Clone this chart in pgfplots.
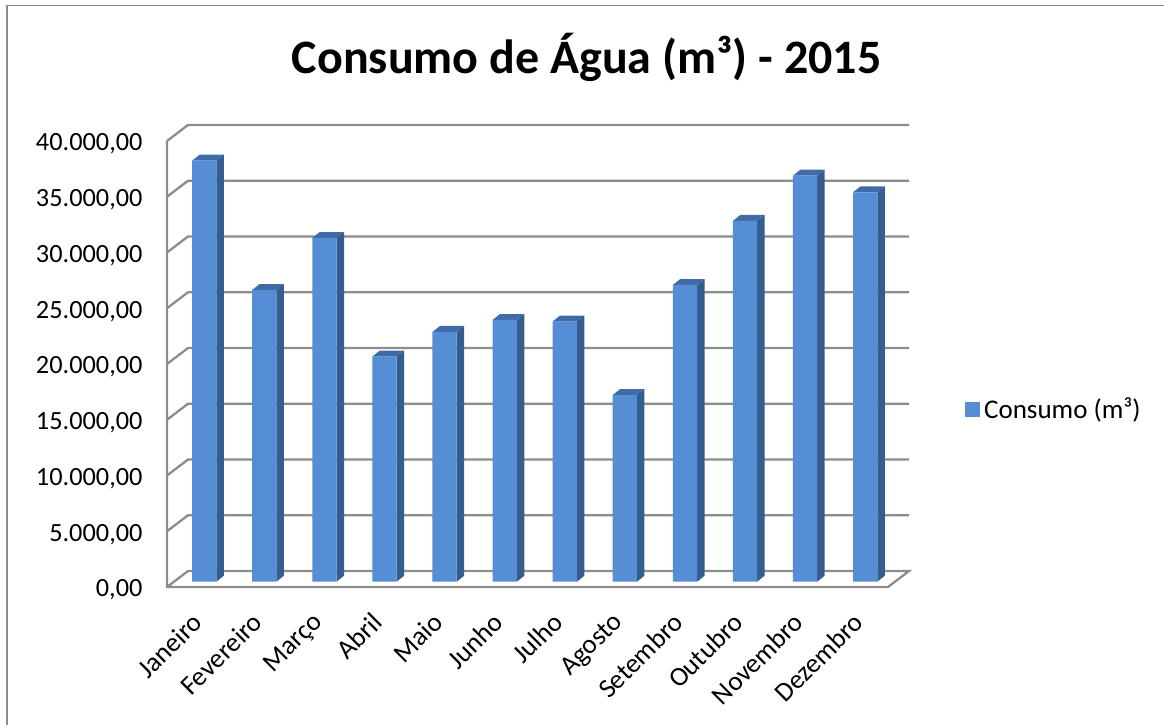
\documentclass[border=0pt]{standalone}
\usepackage{fontspec}
\setmainfont{Carlito}
\usepackage{pgfplots}
\usepackage{pgfplotstable}
\pgfplotsset{compat=1.18}
\definecolor{barfront}{HTML}{558ED5}
\definecolor{barside}{HTML}{355D8F}
\definecolor{bartop}{HTML}{3F6CA8}
\definecolor{gridc}{HTML}{8C8C8C}
\pgfplotstableread{
i v
0 37758
1 26161
2 30825
3 20197
4 22395
5 23471
6 23336
7 16744
8 26610
9 32350
10 36413
11 34924
}\datatable
\begin{document}
\begin{tikzpicture}[x=1pt,y=1pt]
\path[use as bounding box] (0,0) rectangle (1164,725);
\draw[gridc,line width=1.6pt] (7,0) -- (7,719.5) -- (1164,719.5);
\begin{axis}[
  at={(167pt,138pt)},anchor=south west,
  scale only axis,width=721pt,height=446pt,
  xmin=-0.5,xmax=11.5,ymin=0,ymax=40000,
  clip=false,
  axis line style={draw=none},
  xtick={0,1,2,3,4,5,6,7,8,9,10,11},
  xticklabels={Janeiro,Fevereiro,Março,Abril,Maio,Junho,Julho,Agosto,Setembro,Outubro,Novembro,Dezembro},
  ytick={0,5000,10000,15000,20000,25000,30000,35000,40000},
  major tick length=0pt,
  tick style={draw=none},
  scaled y ticks=false,
  yticklabel style={font=\fontsize{26.3}{28}\selectfont,anchor=east,xshift=-21pt,yshift=-3pt,
    /pgf/number format/assume math mode=true,
    /pgf/number format/fixed,/pgf/number format/fixed zerofill,/pgf/number format/precision=2,
    /pgf/number format/1000 sep={.},/pgf/number format/dec sep={,}},
  xticklabel style={font=\fontsize{27}{29}\selectfont,rotate=45,anchor=north east,xshift=-18pt,yshift=-9pt},
  title={\fontsize{48}{50}\selectfont\bfseries Consumo de Água (m³) - 2015},
  title style={at={(0.582,1.173)},anchor=center,inner sep=0pt},
  legend style={at={(1.107,0.399)},anchor=west,draw=none,fill=none,inner sep=0pt,outer sep=0pt,
    font=\fontsize{27}{29}\selectfont,legend cell align=left},
  legend image code/.code={\fill[barfront] (0pt,-13.5pt) rectangle (15pt,1.5pt);},
]
% back wall grid
\pgfplotsforeachungrouped \g in {5000,10000,15000,20000,25000,30000,35000,40000}{
  \edef\gb{\the\numexpr\g+1434\relax}
  \edef\temp{\noexpand\addplot[gridc,line width=2.3pt,forget plot] coordinates {(-0.5,\g)(-0.1505,\gb)(11.8495,\gb)};}
  \temp
}
% floor and left wall
\addplot[gridc,line width=2.3pt,forget plot] coordinates {(-0.5,40000)(-0.5,0)(11.5,0)(11.8495,1434)(-0.1505,1434)(-0.5,0)};
% 3-D faces of each bar, from the same values
\pgfplotsforeachungrouped \i in {0,1,2,3,4,5,6,7,8,9,10,11}{
  \pgfplotstablegetelem{\i}{v}\of\datatable
  \edef\val{\pgfplotsretval}
  \pgfmathsetmacro\xl{\i-0.0824}
  \pgfmathsetmacro\xr{\i+0.3220}
  \pgfmathsetmacro\xlb{\i+0.0424}
  \pgfmathsetmacro\xrb{\i+0.4468}
  \edef\tf{\the\numexpr\val+475\relax}
  \edef\tb{\the\numexpr\val+1013\relax}
  \edef\temp{\noexpand\addplot[fill=barside,draw=none,forget plot] coordinates {(\xr,475)(\xrb,1013)(\xrb,\tb)(\xr,\tf)} -- cycle;
    \noexpand\addplot[fill=bartop,draw=none,forget plot] coordinates {(\xl,\tf)(\xr,\tf)(\xrb,\tb)(\xlb,\tb)} -- cycle;}
  \temp
}
\addplot[ybar,bar width=24.3pt,bar shift=0pt,xshift=7.2pt,yshift=5.3pt,fill=barfront,draw=none] table[x=i,y=v] {\datatable};
\addlegendentry{\hspace{2pt}Consumo (m³)}
\end{axis}
\end{tikzpicture}
\end{document}
